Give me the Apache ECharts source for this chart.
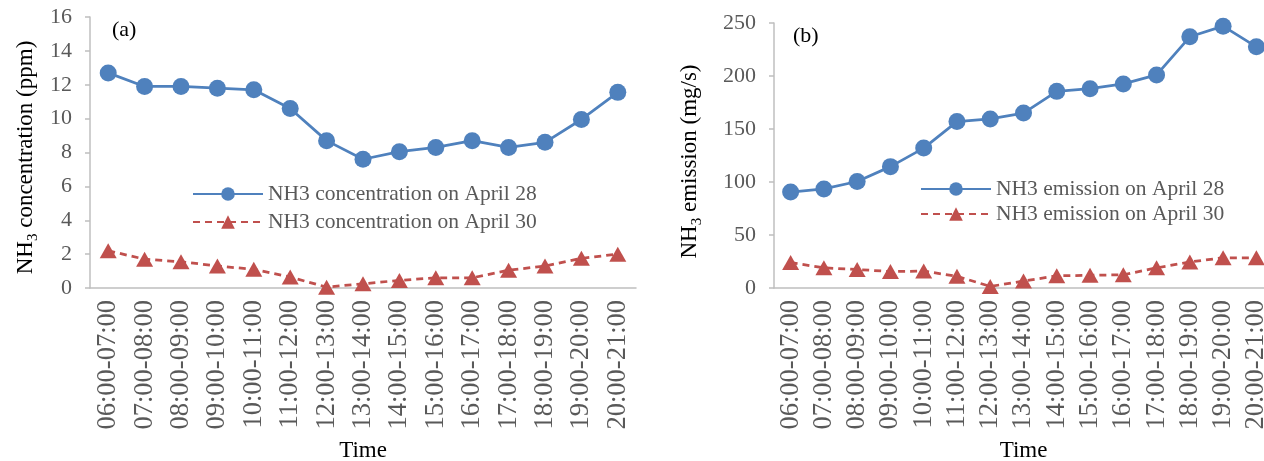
<!DOCTYPE html>
<html>
<head>
<meta charset="utf-8">
<script src="https://cdn.jsdelivr.net/npm/echarts@6/dist/echarts.min.js"></script>
<style>
html,body{margin:0;padding:0;background:#fff;}
#chart{width:1264px;height:461px;}
</style>
</head>
<body>
<div id="chart"></div>
<script>
const categories = ['06:00-07:00','07:00-08:00','08:00-09:00','09:00-10:00','10:00-11:00','11:00-12:00','12:00-13:00','13:00-14:00','14:00-15:00','15:00-16:00','16:00-17:00','17:00-18:00','18:00-19:00','19:00-20:00','20:00-21:00'];
const concApr28 = [12.7, 11.9, 11.9, 11.8, 11.7, 10.6, 8.7, 7.6, 8.05, 8.3, 8.7, 8.3, 8.6, 9.95, 11.55];
const concApr30 = [2.2, 1.7, 1.55, 1.3, 1.1, 0.65, 0.05, 0.25, 0.45, 0.6, 0.6, 1.05, 1.3, 1.75, 2.0];
const emisApr28 = [90.5, 93.5, 100.5, 114.5, 132, 157, 159.5, 165, 185.5, 188, 192.5, 201, 237, 247, 227.5];
const emisApr30 = [24, 19, 17.5, 15.5, 16, 11, 1.5, 6.5, 11.5, 12, 12.5, 19, 24.5, 28.5, 28.5];
const concTicks = {min: 0, max: 16, interval: 2};
const emisTicks = {min: 0, max: 250, interval: 50};
const legendNames = ['NH3 concentration on April 28','NH3 concentration on April 30','NH3 emission on April 28','NH3 emission on April 30'];

const FONT = "'Liberation Serif','Times New Roman',serif";
const BLUE = '#4F81BD', RED = '#C0504D', GRAY = '#595959', AXIS = '#BFBFBF';

function yName(rest, shift){
  return {
    name: '{a|NH}{s|3}{a|' + rest + '}',
    nameTextStyle: {
      padding: [0, shift, 0, 0],
      rich: {
        a: {fontFamily: FONT, fontSize: 23, color: '#000', lineHeight: 25, verticalAlign: 'top'},
        s: {fontFamily: FONT, fontSize: 15, color: '#000', lineHeight: 15, padding: [12,0,0,0], verticalAlign: 'top'}
      }
    }
  };
}

function xAxis(gridIndex){
  return {
    type: 'category', gridIndex: gridIndex, data: categories, boundaryGap: true,
    axisLine: {lineStyle: {color: AXIS, width: 1.5}},
    axisTick: {length: 6, lineStyle: {color: AXIS, width: 1.5}},
    axisLabel: {rotate: 90, margin: 12, interval: 0, color: GRAY, fontFamily: FONT, fontSize: 26.5},
    name: 'Time', nameLocation: 'middle', nameGap: 151,
    nameTextStyle: {color: '#000', fontFamily: FONT, fontSize: 23},
    splitLine: {show: false}
  };
}

function yAxis(gridIndex, ticks, rest, gap, shift){
  return Object.assign({
    type: 'value', gridIndex: gridIndex, min: ticks.min, max: ticks.max, interval: ticks.interval,
    axisLine: {show: true, lineStyle: {color: AXIS, width: 1.5}},
    axisTick: {show: true, length: 5, lineStyle: {color: AXIS, width: 1.5}},
    axisLabel: {margin: 18, color: GRAY, fontFamily: FONT, fontSize: 22},
    splitLine: {show: false},
    nameLocation: 'middle', nameGap: gap
  }, yName(rest, shift));
}

function lineSeries(name, xi, data, dashed){
  return {
    name: name, type: 'line', xAxisIndex: xi, yAxisIndex: xi, data: data,
    symbol: dashed ? 'triangle' : 'circle',
    symbolSize: dashed ? [17, 15] : 17,
    lineStyle: {color: dashed ? RED : BLUE, width: 2.75, type: dashed ? [7, 5] : 'solid'},
    itemStyle: {color: dashed ? RED : BLUE},
    emphasis: {disabled: true},
    animation: false
  };
}

const chart = echarts.init(document.getElementById('chart'), null, {renderer: 'canvas'});
chart.setOption({
  animation: false,
  backgroundColor: '#fff',
  grid: [
    {left: 90, top: 17, width: 546, height: 271, containLabel: false, outerBoundsMode: 'none'},
    {left: 774, top: 23, width: 499, height: 265, containLabel: false, outerBoundsMode: 'none'}
  ],
  xAxis: [xAxis(0), xAxis(1)],
  yAxis: [
    yAxis(0, concTicks, ' concentration (ppm)', 51, 10),
    yAxis(1, emisTicks, ' emission (mg/s)', 71, 12)
  ],
  legend: [
    {data: [legendNames[0], legendNames[1]], orient: 'vertical', left: 187, top: 178, itemWidth: 70, itemHeight: 17, itemGap: 6,
     textStyle: {color: GRAY, fontFamily: FONT, fontSize: 21.5, lineHeight: 22}},
    {data: [legendNames[2], legendNames[3]], orient: 'vertical', left: 915, top: 173, itemWidth: 70, itemHeight: 17, itemGap: 3,
     textStyle: {color: GRAY, fontFamily: FONT, fontSize: 21.5, lineHeight: 22}}
  ],
  graphic: [
    {type: 'text', left: 112, top: 19, style: {text: '(a)', fill: '#000', font: '22px ' + FONT}},
    {type: 'text', left: 793, top: 25, style: {text: '(b)', fill: '#000', font: '22px ' + FONT}}
  ],
  series: [
    lineSeries(legendNames[0], 0, concApr28, false),
    lineSeries(legendNames[1], 0, concApr30, true),
    lineSeries(legendNames[2], 1, emisApr28, false),
    lineSeries(legendNames[3], 1, emisApr30, true)
  ]
});
</script>
</body>
</html>
